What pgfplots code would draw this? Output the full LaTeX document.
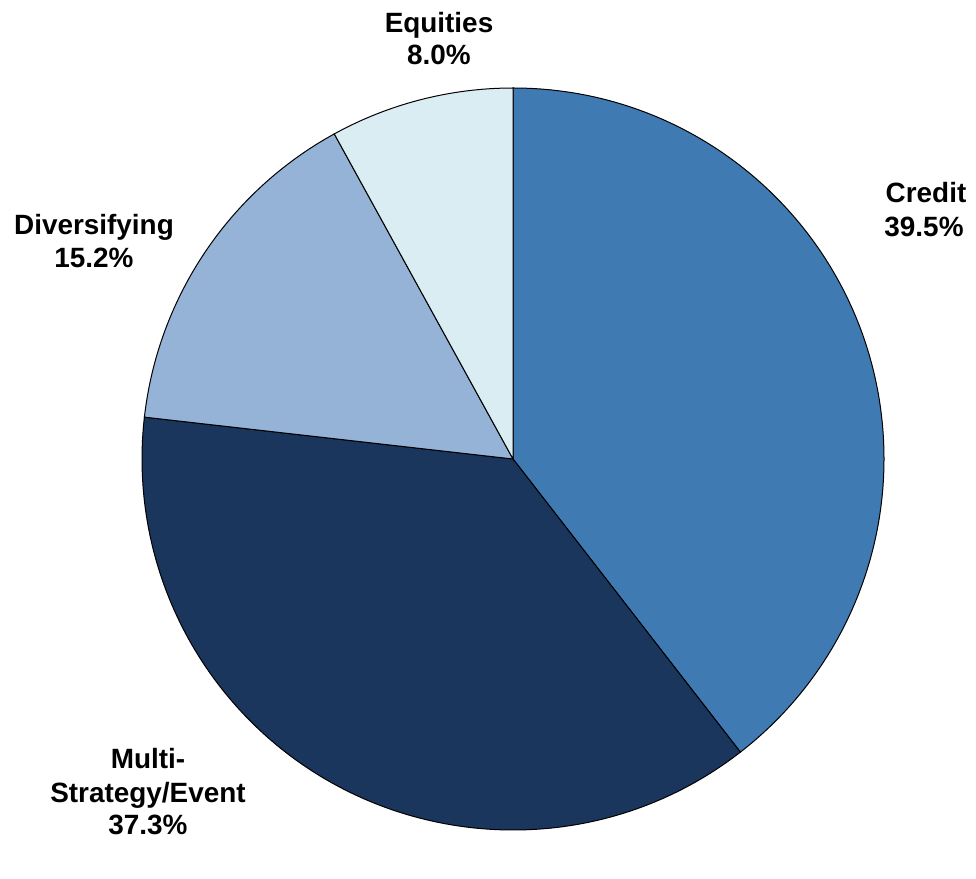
\documentclass[border=0pt]{standalone}
\usepackage{pgfplots}
\usepackage{pgfplotstable}
\pgfplotsset{compat=1.18}
\usepackage{fontspec}
\setmainfont{Liberation Sans}
\definecolor{cCredit}{HTML}{3F7AB2}
\definecolor{cMulti}{HTML}{1B365D}
\definecolor{cDiv}{HTML}{95B3D7}
\definecolor{cEq}{HTML}{DAEDF3}
\pgfplotstableread{
slice share
Credit 39.5
Multi 37.3
Diversifying 15.2
Equities 8.0
}\piedata
\pgfplotstablegetelem{0}{share}\of\piedata \let\sA\pgfplotsretval
\pgfplotstablegetelem{1}{share}\of\piedata \let\sB\pgfplotsretval
\pgfplotstablegetelem{2}{share}\of\piedata \let\sC\pgfplotsretval
\pgfplotstablegetelem{3}{share}\of\piedata \let\sD\pgfplotsretval
\pgfmathsetmacro{\aA}{90}
\pgfmathsetmacro{\aB}{\aA-3.6*\sA}
\pgfmathsetmacro{\aC}{\aB-3.6*\sB}
\pgfmathsetmacro{\aD}{\aC-3.6*\sC}
\pgfmathsetmacro{\aE}{\aD-3.6*\sD}
\begin{document}
\begin{tikzpicture}
\begin{axis}[
  width=976bp, height=843bp, scale only axis,
  xmin=0, xmax=976, ymin=0, ymax=843,
  hide axis, clip=false,
]
\path (rel axis cs:0,0) rectangle (rel axis cs:1,1);
\def\R{371bp}
\filldraw[fill=cCredit, draw=black, line width=1bp] (axis cs:513,384) -- ++(\aA:\R) arc[start angle=\aA, end angle=\aB, radius=\R] -- cycle;
\filldraw[fill=cMulti, draw=black, line width=1bp] (axis cs:513,384) -- ++(\aB:\R) arc[start angle=\aB, end angle=\aC, radius=\R] -- cycle;
\filldraw[fill=cDiv, draw=black, line width=1bp] (axis cs:513,384) -- ++(\aC:\R) arc[start angle=\aC, end angle=\aD, radius=\R] -- cycle;
\filldraw[fill=cEq, draw=black, line width=1bp] (axis cs:513,384) -- ++(\aD:\R) arc[start angle=\aD, end angle=\aE, radius=\R] -- cycle;
\tikzset{lbl/.style={anchor=base, font=\fontsize{28}{32}\selectfont\bfseries, inner sep=0pt}}
\node[lbl] at (axis cs:439,810) {Equities};
\node[lbl] at (axis cs:439,778) {8.0\%};
\node[lbl] at (axis cs:926,640) {Credit};
\node[lbl] at (axis cs:924,606) {39.5\%};
\node[lbl] at (axis cs:94,608) {Diversifying};
\node[lbl] at (axis cs:94,575) {15.2\%};
\node[lbl] at (axis cs:148,75) {Multi-};
\node[lbl] at (axis cs:148,41) {Strategy/Event};
\node[lbl] at (axis cs:148,9) {37.3\%};
\end{axis}
\end{tikzpicture}
\end{document}
